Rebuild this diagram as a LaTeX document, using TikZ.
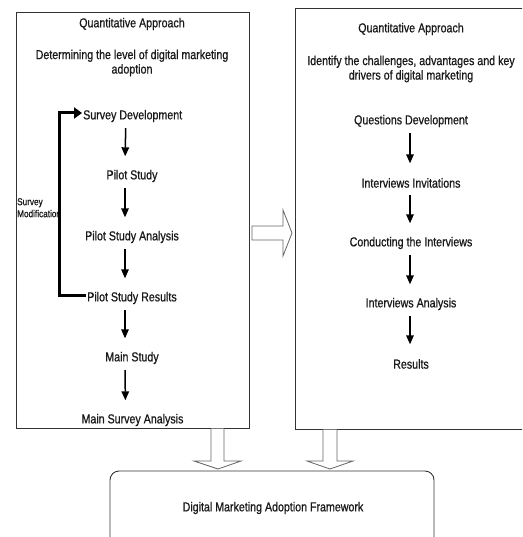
\documentclass[tikz,border=0pt]{standalone}
\usepackage{fontspec}
\setmainfont{Liberation Sans}[FakeStretch=0.82,FakeBold=0.8]
\usetikzlibrary{arrows.meta}
\begin{document}
\begin{tikzpicture}[x=1pt,y=-1pt,
  every node/.style={font=\fontsize{13}{14.5}\selectfont, text=black!90},
  frame/.style={draw=black!80, line width=0.9pt},
  stepnode/.style={minimum height=24pt, inner xsep=1pt, inner ysep=0pt},
  stepar/.style={-{Triangle[length=9pt,width=7.5pt]}, line width=1.5pt, shorten >=7.5pt},
  fb/.style={-{Triangle[length=8pt,width=11pt]}, line width=3pt},
  blockar/.style={draw=black!60, line width=0.8pt, fill=white, line join=miter}
]
\useasboundingbox (0,0) rectangle (522,537);
\clip (0,0) rectangle (522,537);

% boxes
\draw[frame] (16,12.7) rectangle (249,428);
\draw[frame] (295,8) rectangle (540,429);
\draw[frame, rounded corners=9pt] (110,471) rectangle (434,570);

% left box
\node (lq) at (132,24) {Quantitative Approach};
\node[align=center] (lh) at (132,63) {Determining the level of digital marketing\\adoption};
\node[stepnode] (sd) at (132.7,116) {Survey Development};
\node[stepnode] (ps) at (132,176) {Pilot Study};
\node[stepnode] (psa) at (132,237) {Pilot Study Analysis};
\node[stepnode] (psr) at (132,298) {Pilot Study Results};
\node[stepnode] (ms) at (132,358) {Main Study};
\node[stepnode] (msa) at (132.5,420) {Main Survey Analysis};
\node[font=\fontsize{10}{12}\selectfont, align=left, anchor=north west, inner sep=0pt] (sm) at (17,198) {Survey\\Modification};

\draw[stepar] ([xshift=-7pt]sd.south) -- ([xshift=-7pt]ps.north);
\draw[stepar] ([xshift=-7pt]ps.south) -- ([xshift=-7pt]psa.north);
\draw[stepar] ([xshift=-7pt]psa.south) -- ([xshift=-7pt]psr.north);
\draw[stepar] ([xshift=-7pt]psr.south) -- ([xshift=-7pt]ms.north);
\draw[stepar] ([xshift=-7pt]ms.south) -- ([xshift=-7pt]msa.north);

\draw[fb] ([yshift=3pt]psr.west) -- ++(-27,0) |- ([yshift=3pt]sd.west);

% right box
\node (rq) at (411,29) {Quantitative Approach};
\node[align=center] (rh) at (411,69) {Identify the challenges, advantages and key\\drivers of digital marketing};
\node[stepnode] (qd) at (411,121) {Questions Development};
\node[stepnode] (ii) at (411,183) {Interviews Invitations};
\node[stepnode] (ct) at (411,243) {Conducting the Interviews};
\node[stepnode] (ia) at (411,304) {Interviews Analysis};
\node[stepnode] (res) at (411,364) {Results};

\draw[stepar] ([xshift=-1pt]qd.south) -- ([xshift=-1pt]ii.north);
\draw[stepar] ([xshift=-1pt]ii.south) -- ([xshift=-1pt]ct.north);
\draw[stepar] ([xshift=-1pt]ct.south) -- ([xshift=-1pt]ia.north);
\draw[stepar] ([xshift=-1pt]ia.south) -- ([xshift=-1pt]res.north);

% framework
\node (fw) at (273,508) {Digital Marketing Adoption Framework};

% block arrows
\draw[blockar] (252,226) -- (283,226) -- (283,210) -- (292,233) -- (283,256) -- (283,240) -- (252,240) -- cycle;
\draw[blockar] (211,428.5) -- (211,461) -- (194,461) -- (218,469) -- (241,461) -- (224,461) -- (224,428.5);
\draw[blockar] (323,429.5) -- (323,461) -- (307,461) -- (330,469) -- (353,461) -- (337,461) -- (337,429.5);
\end{tikzpicture}
\end{document}
